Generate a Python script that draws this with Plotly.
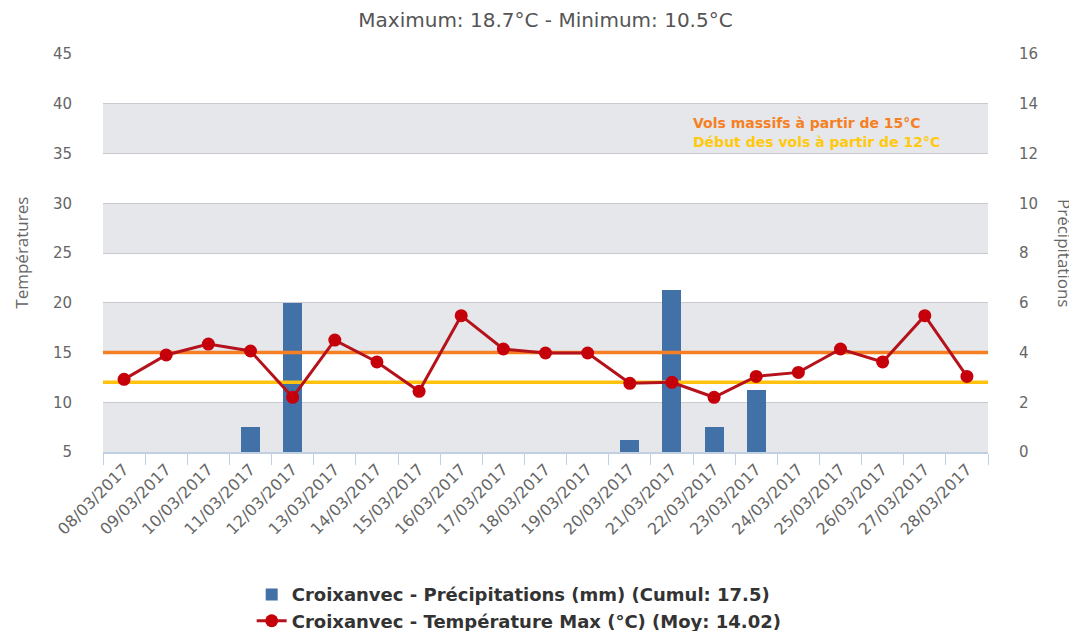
import plotly.graph_objects as go

dates = ["08/03/2017", "09/03/2017", "10/03/2017", "11/03/2017", "12/03/2017",
         "13/03/2017", "14/03/2017", "15/03/2017", "16/03/2017", "17/03/2017",
         "18/03/2017", "19/03/2017", "20/03/2017", "21/03/2017", "22/03/2017",
         "23/03/2017", "24/03/2017", "25/03/2017", "26/03/2017", "27/03/2017",
         "28/03/2017"]
temp_max = [12.3, 14.75, 15.85, 15.15, 10.5, 16.25, 14.05, 11.1, 18.7, 15.35,
            14.95, 14.95, 11.9, 12.0, 10.5, 12.6, 13.0, 15.35, 14.05, 18.7, 12.6]
precip = [0, 0, 0, 1.0, 6.0, 0, 0, 0, 0, 0,
          0, 0, 0.5, 6.5, 1.0, 2.5, 0, 0, 0, 0, 0]
threshold_massif = 15
threshold_debut = 12
temp_ticks = [5, 10, 15, 20, 25, 30, 35, 40, 45]
precip_ticks = [0, 2, 4, 6, 8, 10, 12, 14, 16]

name_precip = "Croixanvec - Précipitations (mm) (Cumul: 17.5)"
name_temp = "Croixanvec - Température Max (°C) (Moy: 14.02)"
title_text = "Maximum: 18.7°C - Minimum: 10.5°C"

idx = list(range(len(dates)))
n = len(dates)
WIDE = "DejaVu Sans, sans-serif"

fig = go.Figure()

fig.add_trace(go.Bar(
    x=idx, y=precip, name=name_precip, yaxis="y", xaxis="x",
    width=0.45, marker=dict(color="#4271a8", line=dict(width=0)),
))

fig.add_trace(go.Scatter(
    x=[-0.5, n - 0.5], y=[threshold_massif, threshold_massif], yaxis="y2",
    mode="lines", line=dict(color="#f57f22", width=3.5), showlegend=False,
    hoverinfo="skip",
))
fig.add_trace(go.Scatter(
    x=[-0.5, n - 0.5], y=[threshold_debut, threshold_debut], yaxis="y2",
    mode="lines", line=dict(color="#ffc20e", width=3.5), showlegend=False,
    hoverinfo="skip",
))

fig.add_trace(go.Scatter(
    x=idx, y=temp_max, name=name_temp, yaxis="y2",
    mode="lines+markers", line=dict(color="#b5121b", width=3),
    marker=dict(color="#c6000b", size=13, line=dict(width=0)),
))

# alternating bands (on precip axis, which shares the grid with temps)
shapes = []
for lo in [0, 4, 8, 12]:
    shapes.append(dict(type="rect", xref="paper", yref="y", x0=0, x1=1,
                       y0=lo, y1=lo + 2, fillcolor="#e6e7ea",
                       line=dict(width=0), layer="below"))

fig.update_layout(
    width=1069, height=623,
    margin=dict(l=95, r=89, t=46, b=179, autoexpand=False),
    paper_bgcolor="white", plot_bgcolor="white",
    font=dict(family="Open Sans, sans-serif", color="#666666"),
    title=dict(text=title_text, x=0.5, xanchor="center", xref="paper",
               yref="container", y=0.981, yanchor="middle",
               font=dict(size=20, color="#555555", family=WIDE)),
    shapes=shapes,
    bargap=0,
    xaxis=dict(
        range=[-0.5, n - 0.5], tickmode="array", tickvals=idx, ticktext=dates,
        tickangle=-45, ticks="", showgrid=False, zeroline=False,
        showline=True, linecolor="#c0d0e0", linewidth=1.5,
        tickfont=dict(size=16, color="#666666", family=WIDE),
        minor=dict(tick0=-0.5, dtick=1, ticks="outside", ticklen=11,
                   tickcolor="#c0d0e0", tickwidth=1, showgrid=False),
    ),
    yaxis=dict(
        side="right", range=[0, 16], tickvals=precip_ticks,
        showgrid=True, gridcolor="#c9cacf", gridwidth=1.2, zeroline=False,
        showline=False, ticks="", ticklabelstandoff=30,
        tickfont=dict(size=15, color="#666666", family=WIDE),
    ),
    yaxis2=dict(
        side="left", overlaying="y", range=[5, 45], tickvals=temp_ticks,
        showgrid=False, zeroline=False, showline=False, ticks="",
        ticklabelstandoff=30, tickfont=dict(size=15, color="#666666", family=WIDE),
    ),
    legend=dict(
        orientation="v", x=0.168, xanchor="left", y=-0.312, yanchor="top",
        font=dict(size=18, color="#333333", family=WIDE, weight="bold"),
        bgcolor="rgba(0,0,0,0)", tracegroupgap=0, itemwidth=30,
    ),
    annotations=[
        dict(text="Températures", xref="paper", yref="paper", x=-0.093, y=0.5,
             textangle=-90, showarrow=False, xanchor="center", yanchor="middle",
             font=dict(size=17, color="#666666")),
        dict(text="Précipitations", xref="paper", yref="paper", x=1.087, y=0.5,
             textangle=90, showarrow=False, xanchor="center", yanchor="middle",
             font=dict(size=17, color="#666666")),
        dict(text="<b>Vols massifs à partir de 15°C</b>", xref="paper", yref="paper",
             x=0.664, y=0.826, xanchor="left", yanchor="middle", showarrow=False,
             font=dict(size=14, color="#f58025", family=WIDE)),
        dict(text="<b>Début des vols à partir de 12°C</b>", xref="paper", yref="paper",
             x=0.664, y=0.780, xanchor="left", yanchor="middle", showarrow=False,
             font=dict(size=14, color="#ffc90e", family=WIDE)),
    ],
)

fig.write_html("out.html")
